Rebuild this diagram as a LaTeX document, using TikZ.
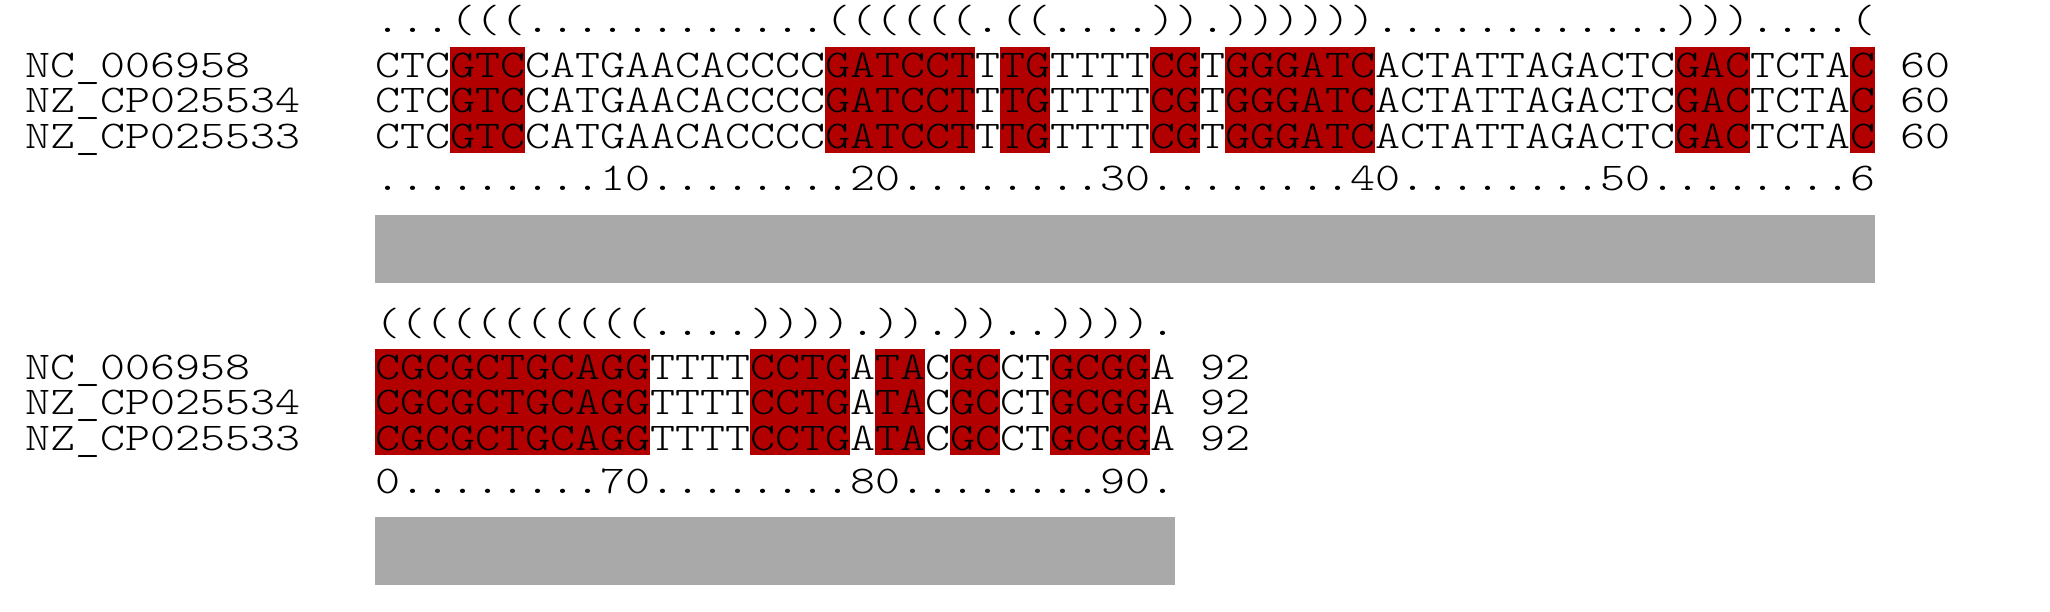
\documentclass[tikz,border=0pt]{standalone}
\usepackage{fontspec}
\newfontfamily\seqfont[FakeStretch=1.2118]{Latin Modern Mono Light}
\definecolor{hlred}{HTML}{B20000}
\definecolor{bargray}{HTML}{A9A9A9}
\begin{document}
\begin{tikzpicture}[x=1pt,y=-1pt,
  txt/.style={inner sep=0pt,outer sep=0pt,anchor=base west,font=\fontsize{39.3}{45}\seqfont},
  hl/.style={fill=hlred},
  bar/.style={fill=bargray}]
\useasboundingbox[fill=white] (0,0) rectangle (2050,612);
% ---------- block 1 ----------
\foreach \a/\b in {4/6,19/24,26/27,32/33,35/40,53/55,60/60}
  \fill[hl] ({375+(\a-1)*25},47.33) rectangle ({375+\b*25},153.33);
\node[txt] (st1) at (375,33) {...(((............((((((.((....)).))))))............)))....(};
\node[txt] (la1) at (25,77.5) {NC\_006958};
\node[txt] (lb1) at (25,112.83) {NZ\_CP025534};
\node[txt] (lc1) at (25,148.17) {NZ\_CP025533};
\node[txt] (sa1) at (375,77.5) {CTCGTCCATGAACACCCCGATCCTTTGTTTTCGTGGGATCACTATTAGACTCGACTCTAC};
\node[txt] (sb1) at (375,112.83) {CTCGTCCATGAACACCCCGATCCTTTGTTTTCGTGGGATCACTATTAGACTCGACTCTAC};
\node[txt] (sc1) at (375,148.17) {CTCGTCCATGAACACCCCGATCCTTTGTTTTCGTGGGATCACTATTAGACTCGACTCTAC};
\node[txt] (na1) at (1900,77.5) {60};
\node[txt] (nb1) at (1900,112.83) {60};
\node[txt] (nc1) at (1900,148.17) {60};
\node[txt] (ru1) at (375,191) {.........10........20........30........40........50........6};
\fill[bar] (375,215) rectangle (1875,283);
% ---------- block 2 ----------
\foreach \a/\b in {1/11,16/19,21/22,24/25,28/31}
  \fill[hl] ({375+(\a-1)*25},349.33) rectangle ({375+\b*25},455.33);
\node[txt] (st2) at (375,335) {(((((((((((....)))).)).))..)))).};
\node[txt] (la2) at (25,379.5) {NC\_006958};
\node[txt] (lb2) at (25,414.83) {NZ\_CP025534};
\node[txt] (lc2) at (25,450.17) {NZ\_CP025533};
\node[txt] (sa2) at (375,379.5) {CGCGCTGCAGGTTTTCCTGATACGCCTGCGGA};
\node[txt] (sb2) at (375,414.83) {CGCGCTGCAGGTTTTCCTGATACGCCTGCGGA};
\node[txt] (sc2) at (375,450.17) {CGCGCTGCAGGTTTTCCTGATACGCCTGCGGA};
\node[txt] (na2) at (1200,379.5) {92};
\node[txt] (nb2) at (1200,414.83) {92};
\node[txt] (nc2) at (1200,450.17) {92};
\node[txt] (ru2) at (375,493) {0........70........80........90.};
\fill[bar] (375,517) rectangle (1175,585);
\end{tikzpicture}
\end{document}
